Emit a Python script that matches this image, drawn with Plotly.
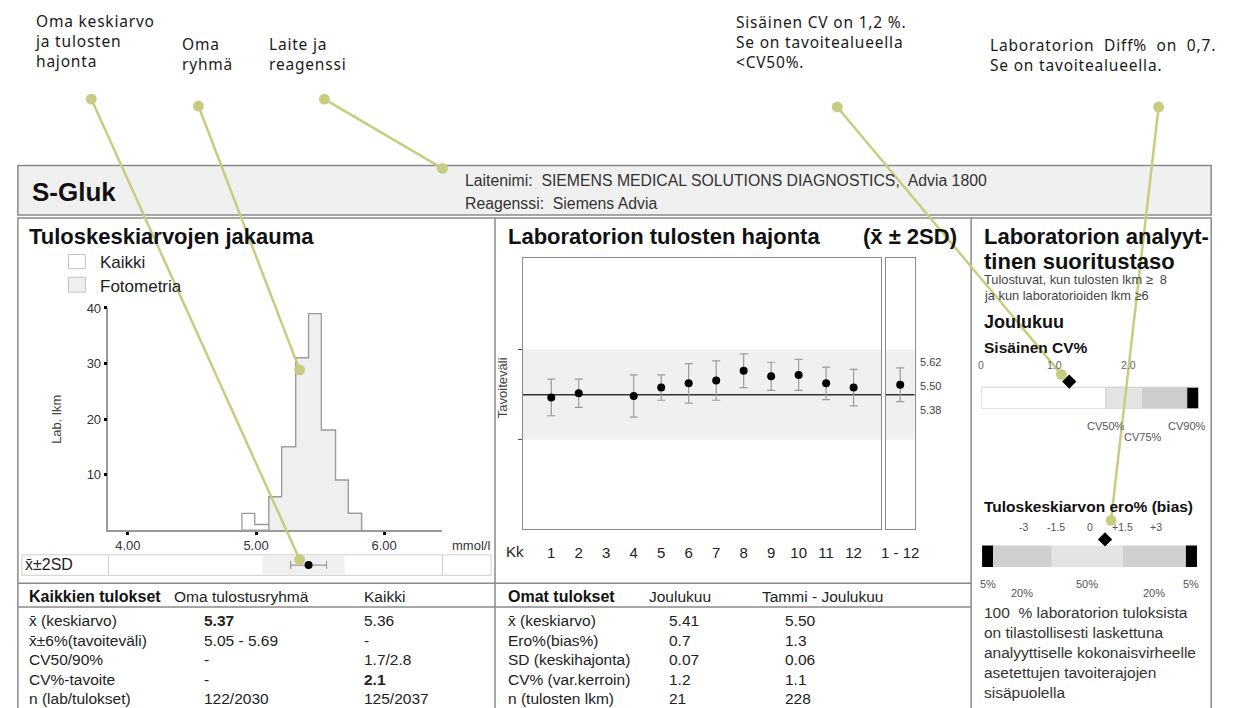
import plotly.graph_objects as go

W, H = 1238, 708
BASE = "Liberation Sans, Arial, sans-serif"
CALL = "Noto Sans, Open Sans, sans-serif"


def px(x):
    return x / W


def py(y):
    return 1 - y / H


# ---------------- data ----------------
test_name = "S-Gluk"
device_text = "Laitenimi:\u00a0 SIEMENS MEDICAL SOLUTIONS DIAGNOSTICS,\u00a0 Advia 1800"
reagent_text = "Reagenssi:\u00a0 Siemens Advia"

hist_bin_left = [4.89, 4.99, 5.10, 5.20, 5.31, 5.41, 5.51, 5.62, 5.72]
hist_bin_width = 0.1035
hist_counts_all = [3, 1, 6, 15, 31, 39, 18, 9, 3]
hist_counts_group = [0, 0, 6, 15, 31, 39, 18, 9, 3]
hist_xticks = [4.0, 5.0, 6.0]
hist_xticklabels = ["4.00", "5.00", "6.00"]
hist_yticks = [10, 20, 30, 40]
legend_labels = ["Kaikki", "Fotometria"]

group_mean = 5.37
target_lo, target_hi = 5.05, 5.69
dec_mean = 5.41
dec_sd = 0.07

months = [1, 2, 3, 4, 5, 6, 7, 8, 9, 10, 11, 12]
month_means = [5.35, 5.38, None, 5.36, 5.42, 5.45, 5.47, 5.54, 5.50, 5.51, 5.45, 5.42]
month_2sd = [0.13, 0.10, None, 0.15, 0.09, 0.14, 0.14, 0.12, 0.10, 0.11, 0.115, 0.13]
year_mean_plot = 5.44
year_2sd_plot = 0.12
year_mean_table = 5.50
year_sd_table = 0.06

cv_own = 1.2
cv_edges = [0.0, 1.7, 2.2, 2.8, 2.96]
cv_colors = ["#ffffff", "#e4e4e4", "#cdcdcd", "#000000"]
cv_scale = [0, 1, 2]
cv_scale_labels = ["0", "1.0", "2.0"]
cv_marks = [("CV50%", 1.7, 423.3), ("CV75%", 2.2, 434.3), ("CV90%", 2.8, 423.3)]

bias_own = 0.7
bias_edges = [-4.85, -4.35, -1.7, 1.5, 4.35, 4.85]
bias_colors = ["#000000", "#d0d0d0", "#e4e4e4", "#d0d0d0", "#000000"]
bias_pct = ["5%", "20%", "50%", "20%", "5%"]
bias_scale = [-3, -1.5, 0, 1.5, 3]
bias_scale_labels = ["-3", "-1.5", "0", "+1.5", "+3"]

all_header = ["Kaikkien tulokset", "Oma tulostusryhmä", "Kaikki"]
all_rows = [
    ["x\u0304 (keskiarvo)", "<b>5.37</b>", "5.36"],
    ["x\u0304±6%(tavoiteväli)", "5.05 - 5.69", "-"],
    ["CV50/90%", "-", "1.7/2.8"],
    ["CV%-tavoite", "-", "<b>2.1</b>"],
    ["n (lab/tulokset)", "122/2030", "125/2037"],
]
own_header = ["Omat tulokset", "Joulukuu", "Tammi - Joulukuu"]
own_rows = [
    ["x\u0304 (keskiarvo)", "5.41", "5.50"],
    ["Ero%(bias%)", "0.7", "1.3"],
    ["SD (keskihajonta)", "0.07", "0.06"],
    ["CV% (var.kerroin)", "1.2", "1.1"],
    ["n (tulosten lkm)", "21", "228"],
]
summary_lines = [
    "100\u00a0 % laboratorion tuloksista",
    "on tilastollisesti laskettuna",
    "analyyttiselle kokonaisvirheelle",
    "asetettujen tavoiterajojen",
    "sisäpuolella",
]

# (lines, left x, centre y of block, start dot, end dot)
callouts = [
    (["Oma keskiarvo", "ja tulosten", "hajonta"], 28, 34, (87, 93), (297, 558)),
    (["Oma", "ryhmä"], 176, 47, (195, 100), (297, 366.5)),
    (["Laite ja", "reagenssi"], 264, 47, (322, 93), (441, 163)),
    (["Sisäinen CV on 1,2 %.", "Se on tavoitealueella", "&lt;CV50%."], 735, 35, (839, 101), (1065, 371)),
    (["Laboratorion\u00a0 Diff%\u00a0 on\u00a0 0,7.", "Se on tavoitealueella."], 991, 48, (1163, 101), (1115, 518.5)),
]

# ---------------- figure ----------------
fig = go.Figure()
shapes = []
ann = []


def text(x, y, s, size, color="#222", bold=False, xanchor="left", family=BASE, angle=0, xref="paper"):
    ann.append(dict(
        x=(px(x) if xref == "paper" else x), y=py(y), xref=xref, yref="paper",
        text=f"<b>{s}</b>" if bold else s, showarrow=False,
        xanchor=xanchor, yanchor="middle", textangle=angle, align="left",
        font=dict(size=size, color=color, family=family)))


def rect(x0, y0, x1, y1, fill="rgba(0,0,0,0)", line="#8a8a8a", width=1.5, layer="above"):
    shapes.append(dict(type="rect", xref="paper", yref="paper", x0=px(x0), x1=px(x1),
                       y0=py(y1), y1=py(y0), fillcolor=fill,
                       line=dict(color=line, width=width), layer=layer))


def seg(x0, y0, x1, y1, color="#8a8a8a", width=1.5, layer="above"):
    shapes.append(dict(type="line", xref="paper", yref="paper", x0=px(x0), x1=px(x1),
                       y0=py(y0), y1=py(y1), line=dict(color=color, width=width), layer=layer))


# panel frames
rect(13, 160, 1216, 210, fill="#f0f0f0", layer="below")
rect(13, 213, 1216, 720, layer="below")
seg(494, 213, 494, 720, layer="below")
seg(974, 213, 974, 720, layer="below")
seg(13, 582, 974, 582, layer="below")
seg(13, 606, 974, 606, layer="below")

# header texts
text(25, 186.7, test_name, 26, color="#111", bold=True)
text(462, 175, device_text, 15.8, color="#333")
text(462, 198, reagent_text, 15.8, color="#333")

# ---- left panel: histogram ----
text(22, 231.7, "Tuloskeskiarvojen jakauma", 22, color="#111", bold=True)
rect(64, 250, 81, 264.3, fill="#ffffff", line="#c0c0c0", width=1)
rect(64, 273, 81, 288, fill="#efefef", line="#c0c0c0", width=1)
text(94, 258.3, legend_labels[0], 17)
text(94, 282.7, legend_labels[1], 17)
text(51.7, 416.7, "Lab. lkm", 13, color="#444", angle=-90, xanchor="center")
text(449, 544.3, "mmol/l", 13, color="#333")

edges = hist_bin_left + [hist_bin_left[-1] + hist_bin_width]


def step_xy(counts):
    return [edges[0]] + edges, [0] + list(counts) + [0]


sx, sy = step_xy(hist_counts_all)
fig.add_trace(go.Scatter(x=sx, y=sy, mode="lines", line=dict(shape="hv", color="#9a9a9a", width=1.3),
                         fill="tozeroy", fillcolor="#ffffff", xaxis="x", yaxis="y", hoverinfo="skip"))
gx, gy = step_xy(hist_counts_group)
fig.add_trace(go.Scatter(x=gx, y=gy, mode="lines", line=dict(shape="hv", color="#9a9a9a", width=1.3),
                         fill="tozeroy", fillcolor="#efefef", xaxis="x", yaxis="y", hoverinfo="skip"))

# x±2SD strip
rect(17, 553.3, 490, 574, line="#cfcfcf", width=1)
seg(104.3, 553.3, 104.3, 574, color="#cfcfcf", width=1)
seg(441, 553.3, 441, 574, color="#cfcfcf", width=1)
text(18, 563.5, "x\u0304±2SD", 16)
shapes.append(dict(type="rect", xref="x2", yref="y2 domain", x0=target_lo, x1=target_hi, y0=0.04, y1=0.96,
                   fillcolor="#f0f0f0", line=dict(width=0), layer="below"))
fig.add_trace(go.Scatter(x=[dec_mean], y=[0.5], mode="markers", marker=dict(color="black", size=8),
                         error_x=dict(type="data", array=[2 * dec_sd], color="#9a9a9a", thickness=1.2, width=4),
                         xaxis="x2", yaxis="y2", hoverinfo="skip"))

# ---- middle panel ----
text(505, 231.7, "Laboratorion tulosten hajonta", 22, color="#111", bold=True)
text(962, 231.7, "(x\u0304 ± 2SD)", 22, color="#111", bold=True, xanchor="right")
text(501, 384, "Tavoiteväli", 13, color="#444", angle=-90, xanchor="center")
text(514, 550, "Kk", 15, xanchor="center")
for val, yy in zip([year_mean_table + 2 * year_sd_table, year_mean_table, year_mean_table - 2 * year_sd_table],
                   [359, 383, 407]):
    text(920, yy, f"{val:.2f}", 11, color="#444")

for xr in ["x3 domain", "x4 domain"]:
    yr = "y3" if xr.startswith("x3") else "y4"
    shapes.append(dict(type="rect", xref=xr, yref=yr, x0=0, x1=1, y0=target_lo, y1=target_hi,
                       fillcolor="#f0f0f0", line=dict(width=0), layer="below"))
    shapes.append(dict(type="line", xref=xr, yref=yr, x0=0, x1=1, y0=group_mean, y1=group_mean,
                       line=dict(color="#333", width=1.5), layer="below"))

vm = [m for m, v in zip(months, month_means) if v is not None]
vv = [v for v in month_means if v is not None]
ve = [e for e in month_2sd if e is not None]
fig.add_trace(go.Scatter(x=vm, y=vv, mode="markers", marker=dict(color="black", size=8),
                         error_y=dict(type="data", array=ve, color="#9a9a9a", thickness=1.2, width=4),
                         xaxis="x3", yaxis="y3", hoverinfo="skip"))
fig.add_trace(go.Scatter(x=[1], y=[year_mean_plot], mode="markers", marker=dict(color="black", size=8),
                         error_y=dict(type="data", array=[year_2sd_plot], color="#9a9a9a", thickness=1.2, width=4),
                         xaxis="x4", yaxis="y4", hoverinfo="skip"))

# ---- right panel ----
text(985, 231.7, "Laboratorion analyyt-", 22, color="#111", bold=True)
text(985, 256.7, "tinen suoritustaso", 22, color="#111", bold=True)
text(985, 275.7, "Tulostuvat, kun tulosten lkm ≥\u00a0 8", 12.8, color="#444")
text(985, 291.7, "ja kun laboratorioiden lkm ≥6", 12.8, color="#444")
text(985, 318.3, "Joulukuu", 18, color="#111", bold=True)
text(985, 344.3, "Sisäinen CV%", 15.5, color="#111", bold=True)
for v, lab in zip(cv_scale, cv_scale_labels):
    text(v, 361.7, lab, 10.5, color="#666", xanchor="center", xref="x5")
for lab, v, yy in cv_marks:
    text(v, yy, lab, 11, color="#555", xanchor="center", xref="x5")

fig.add_trace(go.Bar(orientation="h", y=[0.5] * (len(cv_edges) - 1),
                     x=[cv_edges[i + 1] - cv_edges[i] for i in range(len(cv_edges) - 1)],
                     base=cv_edges[:-1], width=1,
                     marker=dict(color=cv_colors, line=dict(color="#d0d0d0", width=1)),
                     xaxis="x5", yaxis="y5", hoverinfo="skip"))
fig.add_trace(go.Scatter(x=[cv_own], y=[1.26], mode="markers",
                         marker=dict(symbol="diamond", color="black", size=11),
                         xaxis="x5", yaxis="y5", hoverinfo="skip"))

text(985, 504, "Tuloskeskiarvon ero% (bias)", 15.5, color="#111", bold=True)
for v, lab in zip(bias_scale, bias_scale_labels):
    text(v, 525, lab, 10.5, color="#555", xanchor="center", xref="x6")
for i, lab in enumerate(bias_pct):
    c = (bias_edges[i] + bias_edges[i + 1]) / 2
    text(c, 582.7 if i % 2 == 0 else 592.3, lab, 11, color="#555", xanchor="center", xref="x6")
fig.add_trace(go.Bar(orientation="h", y=[0.5] * (len(bias_edges) - 1),
                     x=[bias_edges[i + 1] - bias_edges[i] for i in range(len(bias_edges) - 1)],
                     base=bias_edges[:-1], width=1,
                     marker=dict(color=bias_colors, line=dict(width=0)),
                     xaxis="x6", yaxis="y6", hoverinfo="skip"))
fig.add_trace(go.Scatter(x=[bias_own], y=[1.29], mode="markers",
                         marker=dict(symbol="diamond", color="black", size=11),
                         xaxis="x6", yaxis="y6", hoverinfo="skip"))

for i, line in enumerate(summary_lines):
    text(985, 612.0 + i * 20.2, line, 15.5, color="#333")

# ---- tables ----
row_y = [620.0, 639.6, 659.2, 678.8, 698.2]
text(22, 595.5, all_header[0], 16, color="#111", bold=True)
text(168, 595.5, all_header[1], 15.5)
text(360, 595.5, all_header[2], 15.5)
for yy, row in zip(row_y, all_rows):
    text(22, yy, row[0], 15.5)
    text(199, yy, row[1], 15.5)
    text(360, yy, row[2], 15.5)

text(505, 595.5, own_header[0], 16, color="#111", bold=True)
text(647, 595.5, own_header[1], 15.5)
text(761, 595.5, own_header[2], 15.5)
for yy, row in zip(row_y, own_rows):
    text(505, yy, row[0], 15.5)
    text(667, yy, row[1], 15.5)
    text(784, yy, row[2], 15.5)

# ---- callouts ----
CC = "rgb(200,204,128)"
for lines, x0, yc, (sx0, sy0), (ex, ey) in callouts:
    block = "<br>".join(f'<span style="letter-spacing:0.8px">{s}</span>' for s in lines)
    text(x0, yc, block, 15.5, color="#1a1a1a", family=CALL)
    seg(sx0, sy0, ex, ey, color=CC, width=2.5)
    for (cx, cy) in [(sx0, sy0), (ex, ey)]:
        shapes.append(dict(type="circle", xref="paper", yref="paper",
                           x0=px(cx - 5.5), x1=px(cx + 5.5), y0=py(cy + 5.5), y1=py(cy - 5.5),
                           fillcolor=CC, line=dict(width=0)))

noax = dict(visible=False, showgrid=False, zeroline=False, fixedrange=True)
fig.update_layout(
    width=W, height=H, margin=dict(l=0, r=0, t=0, b=0, pad=0),
    paper_bgcolor="white", plot_bgcolor="rgba(0,0,0,0)", showlegend=False,
    barmode="overlay", font=dict(family=BASE, color="#222"),
    shapes=shapes, annotations=ann,
    xaxis=dict(domain=[px(104.3), px(441)], range=[3.848, 6.455], anchor="y",
               showline=True, linecolor="#9a9a9a", linewidth=1.5, showgrid=False, zeroline=False,
               tickvals=hist_xticks, ticktext=hist_xticklabels, ticks="outside", ticklen=3,
               tickwidth=3, tickcolor="black", tickfont=dict(size=13, color="#333")),
    yaxis=dict(domain=[py(528.3), py(304)], range=[0, 40], anchor="x",
               showline=True, linecolor="#9a9a9a", linewidth=1.5, showgrid=False, zeroline=False,
               tickvals=hist_yticks, ticks="outside", ticklen=3, tickwidth=3, tickcolor="black",
               tickfont=dict(size=13, color="#333")),
    xaxis2=dict(domain=[px(104.3), px(441)], range=[3.848, 6.455], anchor="y2", **noax),
    yaxis2=dict(domain=[py(574), py(553.3)], range=[0, 1], anchor="x2", **noax),
    xaxis3=dict(domain=[px(522), px(883.5)], range=[-0.036, 13.01], anchor="y3",
                showline=True, mirror=True, linecolor="#8a8a8a", linewidth=1.3,
                showgrid=False, zeroline=False, tickvals=months, ticks="outside", ticklen=10,
                tickcolor="rgba(0,0,0,0)", tickfont=dict(size=15, color="#222")),
    yaxis3=dict(domain=[py(527), py(254)], range=[4.417, 6.337], anchor="x3",
                showline=True, mirror=True, linecolor="#8a8a8a", linewidth=1.3,
                showgrid=False, zeroline=False, tickvals=[target_lo, target_hi],
                showticklabels=False, ticks="outside", ticklen=4, tickcolor="#555"),
    xaxis4=dict(domain=[px(888), px(917)], range=[0, 2], anchor="y4",
                showline=True, mirror=True, linecolor="#8a8a8a", linewidth=1.3,
                showgrid=False, zeroline=False, tickvals=[1], ticktext=["1 - 12"], ticks="outside",
                ticklen=10, tickcolor="rgba(0,0,0,0)", tickfont=dict(size=15, color="#222")),
    yaxis4=dict(domain=[py(527), py(254)], matches="y3", anchor="x4",
                showline=True, mirror=True, linecolor="#8a8a8a", linewidth=1.3,
                showgrid=False, zeroline=False, showticklabels=False, ticks=""),
    xaxis5=dict(domain=[px(984), px(1203.3)], range=[0, cv_edges[-1]], anchor="y5", **noax),
    yaxis5=dict(domain=[py(405.7), py(370)], range=[0, 1.645], anchor="x5", **noax),
    xaxis6=dict(domain=[px(985), px(1201.7)], range=[bias_edges[0], bias_edges[-1]], anchor="y6", **noax),
    yaxis6=dict(domain=[py(565.7), py(530)], range=[0, 1.645], anchor="x6", **noax),
)

fig.write_html("out.html", config={"displayModeBar": False},
               post_script="document.body.style.margin='0';document.body.style.overflow='hidden';")
